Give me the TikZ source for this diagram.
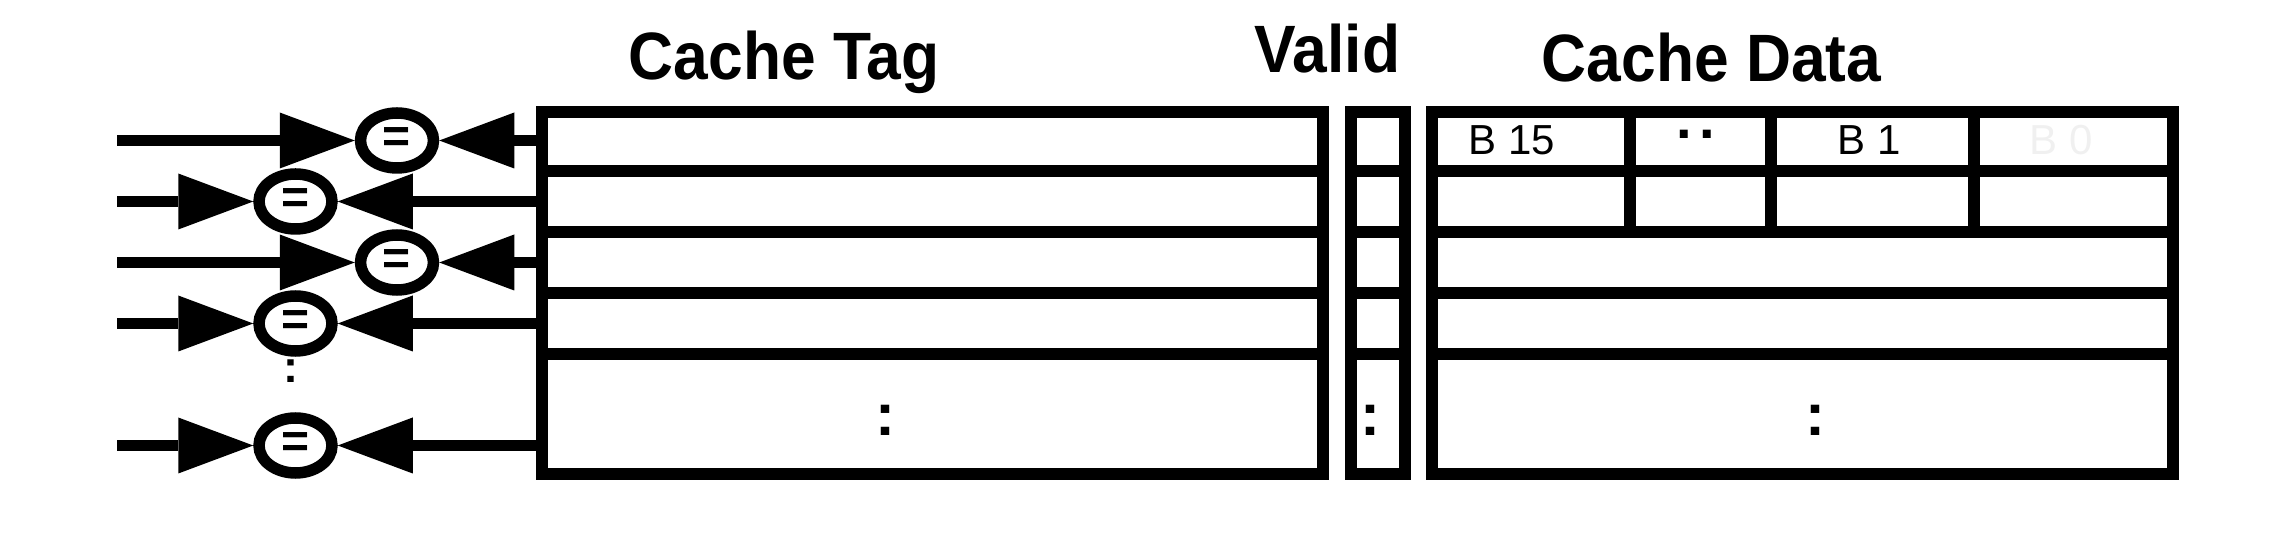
\documentclass[tikz,border=0pt]{standalone}
\usepackage{fontspec}
\setmainfont{Liberation Sans}
\usetikzlibrary{arrows.meta,shapes.geometric}
\definecolor{ghost}{gray}{0.94}
\begin{document}
\begin{tikzpicture}[x=0.5pt,y=-0.5pt,line width=5.75pt]
\tikzstyle{every node}+=[inner sep=0pt]
\tikzstyle{cell}=[draw,rectangle,line width=5.75pt]
\tikzstyle{cmp}=[draw,ellipse,line width=5.75pt,minimum width=36.5pt,minimum height=27.5pt,font=\fontsize{24pt}{24pt}\selectfont\bfseries]
\tikzstyle{head}=[font=\fontsize{33.5pt}{33.5pt}\selectfont\bfseries,xscale=0.93,anchor=base]
\tikzstyle{byte}=[font=\fontsize{21pt}{21pt}\selectfont,anchor=base west]
\tikzstyle{more}=[font=\fontsize{30pt}{30pt}\selectfont\bfseries,anchor=base]
\tikzstyle{wire}=[-{Triangle[length=37.5pt,width=28pt,line width=0pt]}]
\useasboundingbox (0,0) rectangle (2296,533);
\node [head] (tagtitle) at (784,80) {Cache Tag};
\node [head] (validtitle) at (1327.5,73) {Valid};
\node [head] (datatitle) at (1711.5,82) {Cache Data};
\node [cell,minimum width=390.5pt,minimum height=29.5pt] (tag1) at (932.5,141.5) {};
\node [cell,minimum width=390.5pt,minimum height=30.5pt] (tag2) at (932.5,201.5) {};
\node [cell,minimum width=390.5pt,minimum height=30.5pt] (tag3) at (932.5,262.5) {};
\node [cell,minimum width=390.5pt,minimum height=30.5pt] (tag4) at (932.5,323.5) {};
\node [cell,minimum width=390.5pt,minimum height=60pt] (tag5) at (932.5,414) {};
\node [cell,minimum width=27pt,minimum height=29.5pt] (val1) at (1378,141.5) {};
\node [cell,minimum width=27pt,minimum height=30.5pt] (val2) at (1378,201.5) {};
\node [cell,minimum width=27pt,minimum height=30.5pt] (val3) at (1378,262.5) {};
\node [cell,minimum width=27pt,minimum height=30.5pt] (val4) at (1378,323.5) {};
\node [cell,minimum width=27pt,minimum height=60pt] (val5) at (1378,414) {};
\node [cell,minimum width=99pt,minimum height=29.5pt] (dat1a) at (1531,141.5) {};
\node [cell,minimum width=70.5pt,minimum height=29.5pt] (dat1b) at (1700.5,141.5) {};
\node [cell,minimum width=101.5pt,minimum height=29.5pt] (dat1c) at (1872.5,141.5) {};
\node [cell,minimum width=99.5pt,minimum height=29.5pt] (dat1d) at (2073.5,141.5) {};
\node [cell,minimum width=99pt,minimum height=30.5pt] (dat2a) at (1531,201.5) {};
\node [cell,minimum width=70.5pt,minimum height=30.5pt] (dat2b) at (1700.5,201.5) {};
\node [cell,minimum width=101.5pt,minimum height=30.5pt] (dat2c) at (1872.5,201.5) {};
\node [cell,minimum width=99.5pt,minimum height=30.5pt] (dat2d) at (2073.5,201.5) {};
\node [cell,minimum width=370.5pt,minimum height=30.5pt] (dat3) at (1802.5,262.5) {};
\node [cell,minimum width=370.5pt,minimum height=30.5pt] (dat4) at (1802.5,323.5) {};
\node [cell,minimum width=370.5pt,minimum height=60pt] (dat5) at (1802.5,414) {};
\node [byte] (b15) at (1463,155) {B 15};
\node [font=\fontsize{28pt}{28pt}\selectfont\bfseries,anchor=base] (bdots) at (1696,138.5) {.\kern4pt.};
\node [byte] (b1) at (1832,155) {B 1};
\node [byte,text=ghost] (b0) at (2024,155) {B 0};
\node [more] (tagmore) at (885.5,436) {:};
\node [more] (valmore) at (1370.5,436) {:};
\node [more] (datmore) at (1815.5,436) {:};
\node [cmp] (eq1) at (397,140.5) {=};
\node [cmp] (eq2) at (295.5,201.5) {=};
\node [cmp] (eq3) at (397,262.5) {=};
\node [cmp] (eq4) at (295.5,323.5) {=};
\node [cmp] (eq5) at (295.5,445.5) {=};
\node [more,font=\fontsize{22.5pt}{22.5pt}\selectfont\bfseries] (eqmore) at (291,383) {:};
\coordinate (in1) at (117,140.5);
\coordinate (in2) at (117,201.5);
\coordinate (in3) at (117,262.5);
\coordinate (in4) at (117,323.5);
\coordinate (in5) at (117,445.5);
\draw [wire] (in1) -- (eq1);
\draw [wire] (in2) -- (eq2);
\draw [wire] (in3) -- (eq3);
\draw [wire] (in4) -- (eq4);
\draw [wire] (in5) -- (eq5);
\draw [wire] (eq1 -| tag1.west) -- (eq1);
\draw [wire] (eq2 -| tag2.west) -- (eq2);
\draw [wire] (eq3 -| tag3.west) -- (eq3);
\draw [wire] (eq4 -| tag4.west) -- (eq4);
\draw [wire] (eq5 -| tag5.west) -- (eq5);
\end{tikzpicture}
\end{document}
